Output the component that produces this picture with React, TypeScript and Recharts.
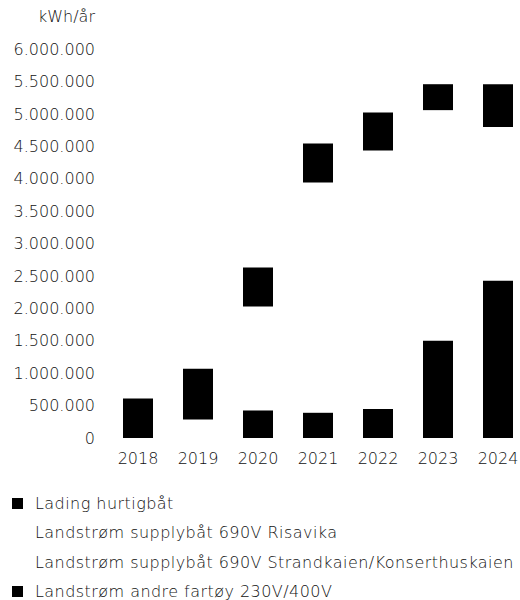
import React, { useLayoutEffect } from "react";
import { BarChart, Bar, XAxis, YAxis } from "recharts";

const years = ["2018", "2019", "2020", "2021", "2022", "2023", "2024"];
const ladingHurtigbat = [0, 0, 427000, 392000, 448000, 1503000, 2430000];
const supplyRisavika = [0, 284000, 1000000, 2150000, 2400000, 2100000, 1400000];
const supplyStrandkaien = [0, 0, 603000, 1398000, 1587000, 1454000, 965000];
const andreFartoy = [610000, 786000, 600000, 603000, 585000, 400000, 663000];
const yTicks = [0, 500000, 1000000, 1500000, 2000000, 2500000, 3000000, 3500000, 4000000, 4500000, 5000000, 5500000, 6000000];

const series = [
  { key: "lading", name: "Lading hurtigbåt", color: "#000000" },
  { key: "risavika", name: "Landstrøm supplybåt 690V Risavika", color: "#ffffff" },
  { key: "strandkaien", name: "Landstrøm supplybåt 690V Strandkaien/Konserthuskaien", color: "#ffffff" },
  { key: "andre", name: "Landstrøm andre fartøy 230V/400V", color: "#000000" },
];

const data = years.map((year, i) => ({
  year,
  lading: ladingHurtigbat[i],
  risavika: supplyRisavika[i],
  strandkaien: supplyStrandkaien[i],
  andre: andreFartoy[i],
}));

const FONT = "'DejaVu Sans', sans-serif";
const TEXT = "#111111";

const fmt = (v: number) => String(v).replace(/\B(?=(\d{3})+(?!\d))/g, ".");

export default function App() {
  // the 2024 label runs past the default body margin, so use the full page width
  useLayoutEffect(() => {
    document.body.style.margin = "0";
  }, []);

  return (
    <div
      style={{
        position: "relative",
        boxSizing: "border-box",
        width: 520,
        height: 600,
        padding: 8,
        overflow: "hidden",
        fontFamily: FONT,
        color: TEXT,
      }}
    >
      <div
        style={{
          position: "absolute",
          left: 8,
          top: 8,
          width: 87,
          textAlign: "right",
          fontSize: 16,
          lineHeight: "18px",
          fontWeight: 200,
        }}
      >
        kWh/år
      </div>
      <BarChart width={530} height={460} data={data} margin={{ top: 41, right: 10, bottom: 0, left: 0 }} barSize={30}>
        <XAxis
          dataKey="year"
          axisLine={false}
          tickLine={false}
          tickMargin={9}
          tick={{ fill: TEXT, fontSize: 16, fontFamily: FONT, fontWeight: 200 }}
          interval={0}
        />
        <YAxis
          width={100}
          domain={[0, 6000000]}
          ticks={yTicks}
          axisLine={false}
          tickLine={false}
          tickMargin={7}
          tickFormatter={fmt}
          tick={{ fill: TEXT, fontSize: 16, fontFamily: FONT, fontWeight: 200 }}
          interval={0}
        />
        {series.map((s) => (
          <Bar key={s.key} dataKey={s.key} name={s.name} stackId="a" fill={s.color} isAnimationActive={false} />
        ))}
      </BarChart>
      <div style={{ marginTop: 21, fontSize: 16, fontWeight: 200, letterSpacing: 0.45, whiteSpace: "nowrap" }}>
        {series.map((s) => (
          <div key={s.key} style={{ display: "flex", alignItems: "center", height: 29.3 }}>
            <span style={{ display: "inline-block", flex: "none", width: 11, height: 11, background: s.color, marginLeft: 4, marginRight: 12 }} />
            <span>{s.name}</span>
          </div>
        ))}
      </div>
    </div>
  );
}
